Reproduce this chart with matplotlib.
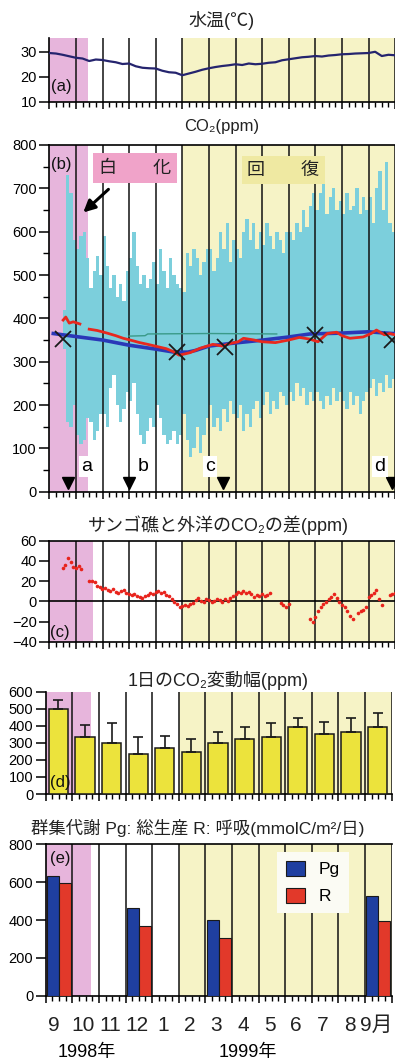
import matplotlib
matplotlib.use('Agg')
import matplotlib.pyplot as plt
import matplotlib.transforms as mtrans
import numpy as np

plt.rcParams['font.family'] = ['Liberation Sans', 'Noto Sans CJK JP', 'DejaVu Sans']

# x axis in months: 0 = 1 Sep 1998 ... 13 = 1 Oct 1999
month_labels = ['9', '10', '11', '12', '1', '2', '3', '4', '5', '6', '7', '8', '9月']
year_labels = ['1998年', '1999年']

# (a) water temperature, weekly
temp_t = np.arange(0, 13.01, 0.25)
temp = [29.5, 29.3, 28.8, 28.2, 27.6, 27.3, 26.3, 26.9, 26.7, 26.2, 25.8, 25.1,
        25.3, 24.2, 23.6, 23.4, 23.3, 22.4, 21.8, 21.6, 20.6, 21.3, 22.0, 22.8,
        23.4, 23.9, 24.3, 24.6, 25.0, 24.7, 25.3, 25.0, 25.2, 25.6, 25.8, 26.6,
        27.0, 27.4, 27.8, 28.0, 28.3, 28.1, 28.5, 28.7, 29.0, 29.1, 29.3, 29.4,
        29.5, 30.0, 28.3, 28.8, 28.6]

# (b) CO2 daily range (max / min), 1/8-month columns starting at 0.5
co2_t = np.arange(0.5, 13.0, 0.125)
co2_hi = [420, 730, 690, 580,
          560, 590, 600, 540, 470, 510, 545, 500,
          590, 520, 470, 500, 450, 480, 440, 510,
          540, 600, 520, 480, 500, 470, 490, 530,
          480, 560, 510, 470, 540, 500, 480, 470,
          460, 550, 520, 560, 540, 500, 530, 560,
          560, 510, 540, 600, 560, 620, 530, 580,
          560, 540, 600, 630, 580, 620, 560, 600,
          570, 620, 590, 560, 600, 580, 550, 600,
          600, 580, 620, 600, 650, 610, 660, 690,
          650, 690, 720, 640, 680, 700, 650, 670,
          640, 690, 650, 660, 700, 640, 680, 650,
          680, 620, 700, 740, 650, 760, 620, 600]
co2_lo = [330, 160, 150, 200,
          130, 110, 120, 170, 160, 120, 140, 180,
          180, 150, 240, 270, 200, 160, 190, 230,
          210, 250, 180, 130, 110, 140, 170, 150,
          200, 170, 130, 110, 120, 140, 110, 130,
          180, 120, 80, 100, 150, 90, 130, 170,
          200, 150, 170, 140, 190, 160, 210, 180,
          170, 200, 140, 180, 150, 190, 210, 170,
          200, 230, 180, 210, 190, 230, 220, 200,
          230, 210, 250, 220, 240, 200, 230, 210,
          230, 210, 190, 220, 200, 240, 210, 230,
          210, 190, 230, 200, 220, 180, 210, 230,
          240, 260, 220, 250, 230, 270, 240, 260]

# outer ocean CO2 (blue)
ocean_t = [0.15, 1, 2, 3, 4, 4.7, 5.2, 5.5, 6, 6.8, 7.9, 9, 9.8, 11, 12, 12.9, 13]
ocean = [365, 358, 350, 338, 329, 322, 322, 326, 336, 342, 349, 357, 364, 366, 369, 365, 365]

# reef CO2 daily mean (red)
reef_t = [0.52, 0.62, 0.75, 0.9, 1.15, np.nan, 1.5, 1.8, 2.17, 2.5, 2.78, 3.1, 3.4, 3.7,
          4.05, 4.4, 4.67, 4.88, 5.1, 5.3, 5.67, 6.15, 6.5, 6.8, 7.1, 7.3, 7.7, 8.0,
          8.5, 9.0, 9.4, 9.8, 10.1, 10.45, 10.8, 11.0, 11.3, 11.8, 12.1, 12.3, 12.6,
          12.8, 13.0]
reef = [396, 403, 389, 392, 387, np.nan, 375, 372, 366, 360, 354, 349, 344, 340,
        335, 330, 323, 315, 318, 321, 331, 340, 336, 342, 346, 354, 350, 346,
        344, 350, 356, 352, 346, 365, 368, 360, 354, 357, 365, 373, 362,
        365, 362]

# thin teal line
teal_t = [3.0, 3.6, 3.7, 6.0, 8.55]
teal = [359, 360, 364, 365, 364]

# sampling dates (x) and markers
cross_t = [0.53, 4.79, 6.61, 9.99, 12.87]
cross_v = [352, 323, 335, 361, 350]
obs_t = [0.71, 3.01, 6.54, 12.87]
obs_names = ['a', 'b', 'c', 'd']
obs_label_t = [1.4, 3.53, 6.04, 12.43]

# (c) reef minus ocean CO2, 0.1-month steps from 0.4
diff_t = np.arange(0.4, 13.05, 0.1)
nan = np.nan
diff = [nan, 33, 36, 43, 39, 34, 33, 35, 32, nan,
        nan, 20, 20, 19, 15, 14, 12, 13, 11, 10,
        12, 9, 8, 10, 11, 8, 7, 6, 7, 5,
        4, 3, 5, 6, 8, 7, 9, 10, 8, 9,
        6, 5, 2, -1, -3, -6, -5, -4, -5, -3,
        -2, 1, 3, 0, -1, 2, 1, -1, 0, 2,
        1, -1, 2, 0, 3, 5, 7, 9, 8, 10,
        8, 9, 7, 4, 6, 5, 7, 5, 6, 8,
        nan, nan, nan, -2, -4, -6, -3, nan, nan, nan,
        nan, nan, nan, nan, -18, -20, -16, -10, -6, -3,
        -1, 2, 4, 7, 3, -1, -4, -6, -10, -15,
        -18, nan, -12, -10, -9, -6, 4, 6, 8, 11,
        2, -4, nan, nan, 6, 7, 8]

# (d) daily CO2 amplitude, monthly mean and +SD
amp_mean = [496, 332, 301, 236, 272, 248, 301, 320, 332, 391, 352, 365, 391]
amp_sd = [55, 73, 117, 96, 68, 72, 64, 71, 86, 53, 72, 79, 86]

# (e) community metabolism
met_month = [0, 3, 6, 12]
pg = [633, 465, 400, 529]
resp = [597, 368, 303, 396]

PINK = '#e7b5dc'
YELLOW = '#f6f3c6'
CYAN = '#7ccfdc'

W, H = 395, 1063
fig = plt.figure(figsize=(W / 100, H / 100), dpi=100)


def px_axes(left, top, bottom, right):
    return fig.add_axes([left / W, 1 - bottom / H, (right - left) / W, (bottom - top) / H])


def setup(ax, ylim, yticks, pink_end, top_spine):
    ax.set_xlim(0, 13)
    ax.set_ylim(*ylim)
    ax.axvspan(0, pink_end, color=PINK, lw=0, zorder=0)
    ax.axvspan(5, 13, color=YELLOW, lw=0, zorder=0)
    for m in range(1, 14):
        ax.axvline(m, color='#111111', lw=1.1, zorder=2)
    ax.spines['right'].set_visible(False)
    ax.spines['top'].set_visible(top_spine)
    for s in ax.spines.values():
        s.set_linewidth(1.2)
    ax.set_xticks(np.arange(0, 14))
    ax.set_xticks(np.arange(0, 13.01, 0.25), minor=True)
    ax.set_xticklabels([])
    ax.tick_params(axis='x', which='major', direction='out', length=5, width=1.1)
    ax.tick_params(axis='x', which='minor', direction='out', length=3.5, width=1.0)
    ax.set_yticks(yticks)
    ax.tick_params(axis='y', which='major', length=7, width=1.1, labelsize=10.5, pad=2)
    ax.tick_params(axis='y', which='minor', length=4, width=1.0)


def title(x, y, s, size=13):
    fig.text(x / W, 1 - y / H, s, ha='center', va='center', fontsize=size, color='#222222')


def tag(x, y, s):
    fig.text(x / W, 1 - y / H, s, ha='center', va='center', fontsize=12, color='#111111')


# (a)
ax_a = px_axes(49.3, 38.3, 101.7, 395.1)
setup(ax_a, (10, 35.4), [10, 20, 30], 1.45, False)
ax_a.plot(temp_t, temp, color='#25246e', lw=1.6, zorder=3)
title(222, 20, '水温(℃)')
tag(61, 86, '(a)')

# (b)
ax_b = px_axes(49.3, 145, 491.7, 395.1)
setup(ax_b, (0, 800), np.arange(0, 801, 100), 1.45, True)
ax_b.set_yticks(np.arange(50, 800, 100), minor=True)
ax_b.bar(co2_t, np.array(co2_hi) - np.array(co2_lo), bottom=co2_lo, width=0.125,
         align='edge', color=CYAN, lw=0, zorder=1)
ax_b.plot(teal_t, teal, color='#3a9a88', lw=1.0, zorder=3)
ax_b.plot(ocean_t, ocean, color='#2a38b8', lw=2.6, zorder=3)
ax_b.plot(reef_t, reef, color='#e8281e', lw=2.0, zorder=4)
ax_b.plot(cross_t, cross_v, 'x', color='#1a1a1a', ms=11, mew=1.3, zorder=5, clip_on=False)
ax_b.plot(obs_t, [20] * len(obs_t), 'v', color='black', ms=8, zorder=5, clip_on=False)
for t, n in zip(obs_label_t, obs_names):
    ax_b.text(t, 58, n, ha='center', va='center', fontsize=14, zorder=6,
              bbox=dict(facecolor='white', edgecolor='none', pad=1.5))
ax_b.text(3.22, 747, '白　　化', ha='center', va='center', fontsize=13, color='#222222', zorder=6,
          bbox=dict(boxstyle='square,pad=0.35', facecolor='#f0a3c9', edgecolor='none'))
ax_b.text(8.79, 742, '回　　復', ha='center', va='center', fontsize=13, color='#222222', zorder=6,
          bbox=dict(boxstyle='square,pad=0.3', facecolor='#efe9a2', edgecolor='none'))
ax_b.annotate('', xy=(1.2, 640), xytext=(2.3, 702),
              arrowprops=dict(arrowstyle='-|>,head_length=0.7,head_width=0.35', color='black', lw=2.2),
              zorder=6)
title(222, 127, 'CO₂(ppm)', size=12)
tag(61, 165, '(b)')

# (c)
ax_c = px_axes(49.3, 540.7, 641.7, 395.1)
setup(ax_c, (-40, 60), np.arange(-40, 61, 20), 1.63, True)
ax_c.axhline(0, color='black', lw=1.2, zorder=2)
ax_c.plot(diff_t, diff, 'o', color='#e8231c', ms=2.6, mew=0, zorder=4)
title(218, 525, 'サンゴ礁と外洋のCO₂の差(ppm)')
tag(60, 632, '(c)')

# (d)
ax_d = px_axes(45.7, 691.7, 794, 391.5)
setup(ax_d, (0, 600), np.arange(0, 601, 100), 1.69, False)
ax_d.bar(np.arange(13) + 0.48, amp_mean, width=0.72, color='#ece33c', edgecolor='#1a1a1a',
         lw=1.1, zorder=3, yerr=[np.zeros(13), amp_sd], capsize=3.6,
         error_kw=dict(ecolor='#1a1a1a', elinewidth=1.2, capthick=1.2))
title(218, 680, '1日のCO₂変動幅(ppm)')
tag(60, 783, '(d)')

# (e)
ax_e = px_axes(45.7, 844.3, 995.7, 391.5)
setup(ax_e, (0, 800), np.arange(0, 801, 200), 1.72, True)
met_x = np.array(met_month)
ax_e.bar(met_x + 0.05, pg, width=0.45, align='edge', color='#1f3fa0', edgecolor='#1a1a1a',
         lw=0.8, zorder=3, label='Pg')
ax_e.bar(met_x + 0.5, resp, width=0.45, align='edge', color='#e2392a', edgecolor='#1a1a1a',
         lw=0.8, zorder=3, label='R')
leg = ax_e.legend(loc='upper left', bbox_to_anchor=(0.669, 0.95), borderaxespad=0,
                  fontsize=12.5, frameon=True, fancybox=False, handlelength=1.1,
                  handleheight=1.0, handletextpad=0.8, labelspacing=0.6, borderpad=0.5)
leg.get_frame().set_facecolor('#fbfbf4')
leg.get_frame().set_edgecolor('none')
leg.get_frame().set_alpha(1)
leg.set_zorder(6)
title(198, 828, '群集代謝 Pg: 総生産 R: 呼吸(mmolC/m²/日)', size=12.5)
tag(60, 858, '(e)')

lab_x = np.arange(13) + 0.42
lab_x[0] = 0.3
tr = mtrans.blended_transform_factory(ax_e.transData, ax_e.transAxes)
for x, s in zip(lab_x, month_labels):
    ax_e.text(x, -0.195, s, transform=tr, ha='center', va='center', fontsize=15,
              color='#222222', clip_on=False)
fig.text(87 / W, 1 - 1053 / H, year_labels[0], ha='center', va='center', fontsize=13)
fig.text(248 / W, 1 - 1053 / H, year_labels[1], ha='center', va='center', fontsize=13)

fig.savefig('out.png', dpi=100)
